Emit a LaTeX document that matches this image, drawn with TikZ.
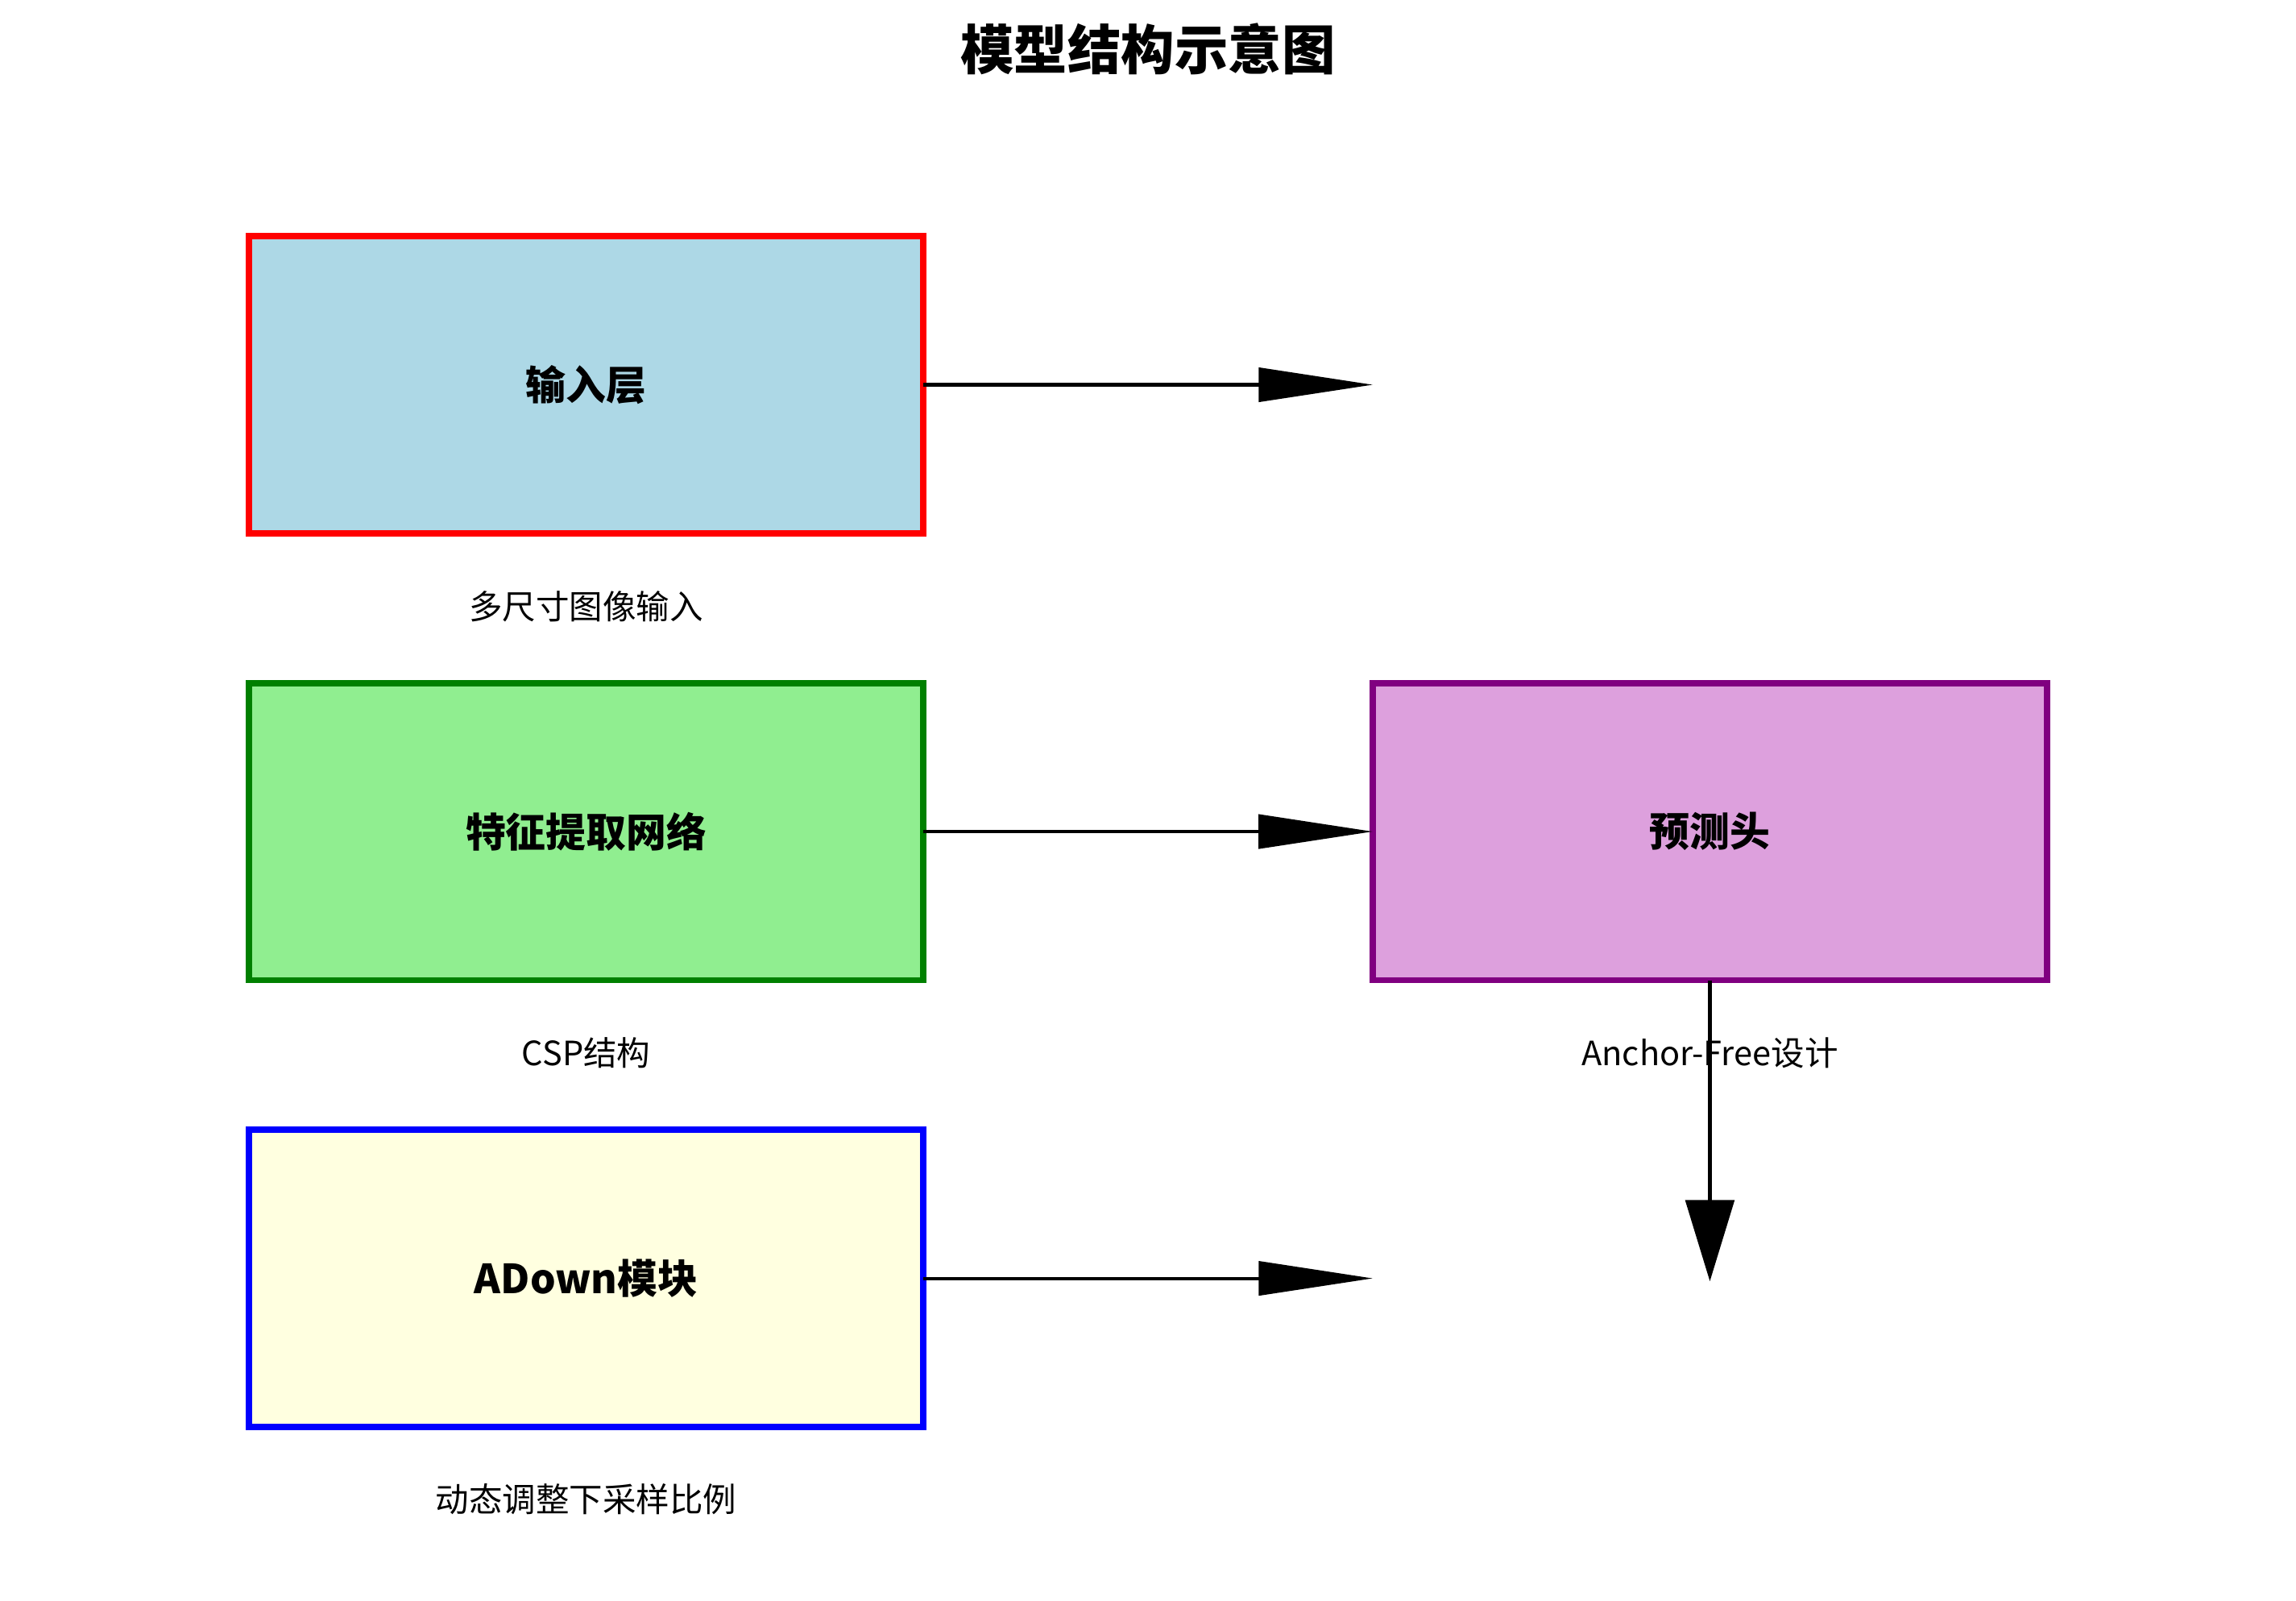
\documentclass[tikz,border=0pt]{standalone}
\usepackage{xcolor}
\usepackage{fontspec}
\setmainfont{Noto Sans CJK SC}
\usepackage{tikz}
\usetikzlibrary{arrows.meta,positioning}
\definecolor{MLightBlue}{HTML}{ADD8E6}
\definecolor{MLightGreen}{HTML}{90EE90}
\definecolor{MLightYellow}{HTML}{FFFFE0}
\definecolor{MPlum}{HTML}{DDA0DD}
\definecolor{MRed}{HTML}{FF0000}
\definecolor{MGreen}{HTML}{008000}
\definecolor{MBlue}{HTML}{0000FF}
\definecolor{MPurple}{HTML}{800080}

\begin{document}
\begin{tikzpicture}[x=1cm,y=1cm,
  modbox/.style={draw,line width=1.9pt,minimum width=7.087cm,minimum height=3.124cm,inner sep=0pt,outer sep=0pt,font=\bfseries\fontsize{12}{14}\selectfont},
  sublbl/.style={inner sep=0pt,font=\fontsize{10}{12}\selectfont},
  harrow/.style={line width=1pt,-{Triangle[length=1.2cm,width=0.356cm]}},
  varrow/.style={line width=1.4pt,-{Triangle[length=0.855cm,width=0.508cm]}}]
  \useasboundingbox (0,0) rectangle (24.13,16.815);
  \node[font=\bfseries\fontsize{16}{19}\selectfont] (title) at (12.065,16.298) {模型结构示意图};
  \node[modbox,fill=MLightBlue,draw=MRed] (inp) at (6.160,12.772) {输入层};
  \node[modbox,fill=MLightGreen,draw=MGreen] (feat) at (6.160,8.077) {特征提取网络};
  \node[modbox,fill=MLightYellow,draw=MBlue] (adown) at (6.160,3.382) {ADown模块};
  \node[modbox,fill=MPlum,draw=MPurple] (head) at (17.970,8.077) {预测头};
  \node[sublbl] (inpnote) at (6.160,10.444) {多尺寸图像输入};
  \node[sublbl] (featnote) at (6.160,5.749) {CSP结构};
  \node[sublbl] (adownnote) at (6.160,1.058) {动态调整下采样比例};
  \node[sublbl] (headnote) at (17.970,5.749) {Anchor-Free设计};
  \coordinate (inpend) at (14.427,12.772);
  \coordinate (adownend) at (14.427,3.382);
  \coordinate (headend) at (17.970,3.35);
  \foreach \a/\b in {inp/inpend,feat/head,adown/adownend}
    \draw[harrow] (\a.east) -- (\b);
  \draw[varrow] (head.south) -- (headend);
\end{tikzpicture}
\end{document}
